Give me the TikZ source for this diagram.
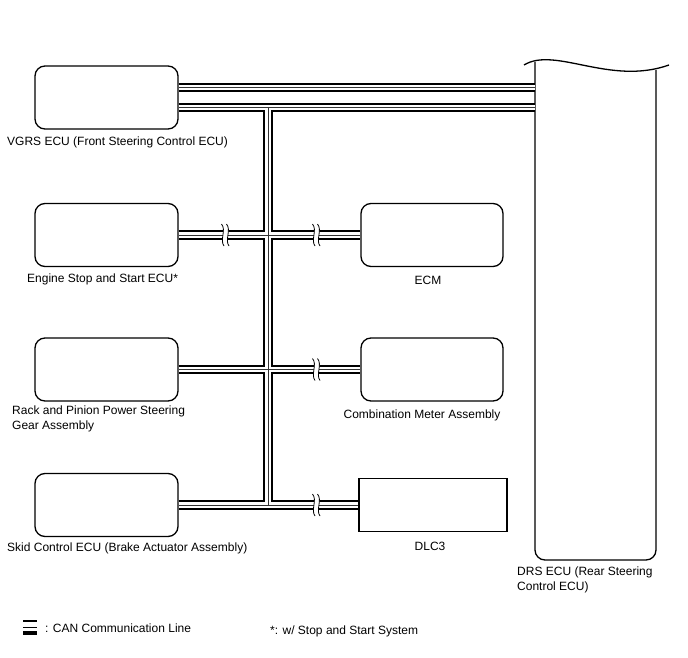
\documentclass[tikz,border=0pt]{standalone}
\usepackage{fontspec}
\setmainfont{Liberation Sans}
\usepackage{tikz}

\tikzset{
  ecu/.style={draw, line width=1.3pt, rounded corners=10pt, minimum width=143pt, minimum height=63pt, inner sep=0pt},
  lbl/.style={font=\fontsize{12}{14.5}\selectfont, inner sep=0pt, align=left},
  brk/.pic={
    \fill[white] (-3.5,-11) .. controls (1.5,-5) and (-5.5,5) .. (-1,11) -- (4,11) .. controls (-0.5,5) and (6.5,-5) .. (1.5,-11) -- cycle;
    \draw[line width=0.8pt] (-3.5,-11) .. controls (1.5,-5) and (-5.5,5) .. (-1,11);
    \draw[line width=0.8pt] (1.5,-11) .. controls (6.5,-5) and (-0.5,5) .. (4,11);
  }
}

\begin{document}
\begin{tikzpicture}[x=1pt, y=-1pt]
  \useasboundingbox (0,0) rectangle (688,658);

  % ECUs on the left
  \node[ecu] (vgrs) at (106.5,97.5) {};
  \node[ecu] (ess)  at (106.5,235) {};
  \node[ecu] (rack) at (106.5,369.5) {};
  \node[ecu] (skid) at (106.5,505) {};
  % ECUs on the right
  \node[ecu, minimum width=142pt] (ecm)  at (432,235) {};
  \node[ecu, minimum width=142pt] (comb) at (432,369.5) {};
  \node[draw, line width=1.3pt, minimum width=148pt, minimum height=53pt, inner sep=0pt] (dlc) at (433,505) {};

  % DRS ECU, wavy top
  \draw[line width=1.3pt] (524,65) .. controls (555,46) and (610,86) .. (669,65);
  \draw[line width=1.3pt, rounded corners=10pt] (535,62) -- (535,560) -- (656,560) -- (656,70);
  \coordinate (drsl) at (535,0);
  \coordinate (trunk) at (268,0);

  % CAN lines: outer, gap, centre
  \foreach \w/\c in {9.5pt/black, 5.6pt/white, 0.6pt/black!80}{
    \draw[line width=\w, \c] ([yshift=10pt]vgrs.east) -- ([yshift=10pt]vgrs.east -| drsl);
    \draw[line width=\w, \c] ([yshift=-10pt]vgrs.east) -- ([yshift=-10pt]vgrs.east -| drsl);
    \draw[line width=\w, \c] ([yshift=-10pt]vgrs.east -| trunk) -- (skid.east -| trunk);
    \draw[line width=\w, \c] (ess.east) -- (ecm.west);
    \draw[line width=\w, \c] (rack.east) -- (comb.west);
    \draw[line width=\w, \c] (skid.east) -- (dlc.west);
  }
  \pic (b1) at (225,235) {brk};
  \pic (b2) at (316,235) {brk};
  \pic (b3) at (316,369.5) {brk};
  \pic (b4) at (316,505) {brk};

  % labels
  \node[lbl, anchor=base west] (vgrsl) at (7,146) {VGRS ECU (Front Steering Control ECU)};
  \node[lbl, anchor=base west] (essl) at (27,282) {Engine Stop and Start ECU*};
  \node[lbl, anchor=north west] (rackl) at (12,406) {Rack and Pinion Power Steering\\Gear Assembly};
  \node[lbl, anchor=base west] (skidl) at (7,551) {Skid Control ECU (Brake Actuator Assembly)};
  \node[lbl, anchor=base] (ecml) at (428,284) {ECM};
  \node[lbl, anchor=base] (combl) at (422,418) {Combination Meter Assembly};
  \node[lbl, anchor=base] (dlcl) at (430,550) {DLC3};
  \node[lbl, anchor=north west] (drsl2) at (517,567) {DRS ECU (Rear Steering\\Control ECU)};

  % legend
  \draw[line width=2.8pt] (23,621) -- (37,621);
  \draw[line width=1.6pt] (23,627.5) -- (37,627.5);
  \draw[line width=3.2pt] (23,633) -- (37,633);
  \node[lbl, anchor=base west] (legcan) at (45,632) {: CAN Communication Line};
  \node[lbl, anchor=base west] (legss) at (270,634) {*: w/ Stop and Start System};
\end{tikzpicture}
\end{document}
